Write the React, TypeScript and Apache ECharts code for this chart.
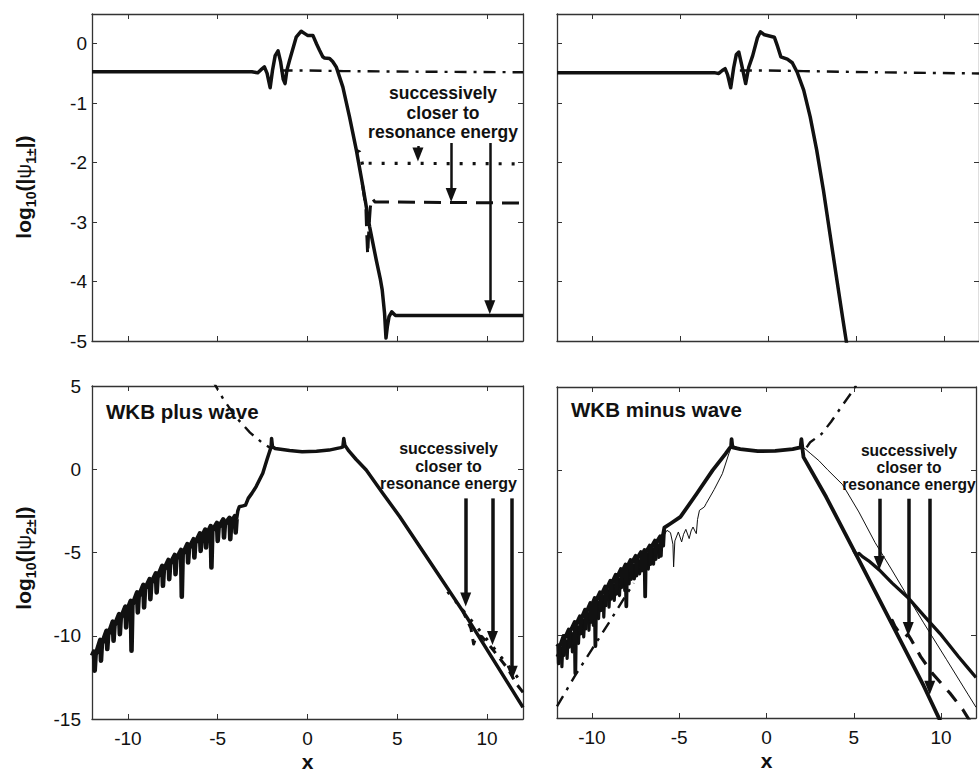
import React, { useEffect, useRef } from 'react';
import * as echarts from 'echarts';

type P = [number, number];

// ---------- tick labels ----------
const xTicks = [-10, -5, 0, 5, 10];
const yTicksTop = [-5, -4, -3, -2, -1, 0];
const yTicksBottom = [-15, -10, -5, 0, 5];

// ---------- top-left panel: log10(|psi1|) ----------
const tlSolid: P[] = [
  [-12, -0.47], [-3.1, -0.47], [-2.77, -0.49], [-2.6, -0.44], [-2.4, -0.39], [-2.25, -0.5], [-2.08, -0.74],
  [-1.95, -0.45], [-1.8, -0.2], [-1.64, -0.12], [-1.5, -0.3], [-1.35, -0.6], [-1.25, -0.67], [-1.15, -0.45],
  [-1.0, -0.28], [-0.63, 0.11], [-0.35, 0.21], [-0.15, 0.17], [0.0, 0.14], [0.3, 0.14], [0.5, 0.0],
  [0.67, -0.11], [0.85, -0.22], [0.95, -0.24], [1.23, -0.25], [1.4, -0.3], [1.6, -0.39], [1.97, -0.73],
  [2.34, -1.23], [2.72, -1.79], [3.09, -2.41], [3.46, -3.08], [3.83, -3.64], [4.05, -3.95], [4.16, -4.14],
  [4.29, -4.53], [4.37, -4.95], [4.45, -4.75], [4.54, -4.59], [4.69, -4.51], [4.9, -4.57], [12, -4.57],
];
const tlWkb: P[] = [[-1.5, -0.45], [0, -0.45], [2, -0.46], [6, -0.47], [12, -0.48]];
const tlDot: P[] = [[2.75, -1.8], [2.9, -1.82], [3.0, -1.95], [3.1, -2.08], [3.2, -2.04], [3.35, -2.01], [12, -2.02]];
const tlDash: P[] = [
  [3.05, -2.35], [3.25, -2.75], [3.3, -3.2], [3.35, -3.55], [3.42, -3.1], [3.5, -2.75], [3.6, -2.6],
  [3.75, -2.66], [12, -2.68],
];
const tlArrowX = [6.15, 8.0, 10.15];
const tlArrowFrom = [-1.72, -1.67, -1.67];
const tlArrowTip = [-1.98, -2.66, -4.55];

// ---------- top-right panel ----------
const trSolid: P[] = [
  [-12, -0.49], [-3.0, -0.49], [-2.8, -0.5], [-2.6, -0.45], [-2.44, -0.42], [-2.3, -0.52], [-2.12, -0.74],
  [-1.95, -0.4], [-1.8, -0.18], [-1.66, -0.14], [-1.5, -0.35], [-1.27, -0.67], [-1.1, -0.4], [-0.87, -0.2],
  [-0.6, 0.1], [-0.43, 0.2], [-0.2, 0.15], [0.08, 0.13], [0.36, 0.11], [0.55, -0.05], [0.73, -0.22],
  [1.1, -0.26], [1.38, -0.32], [1.66, -0.48], [2.03, -0.78], [2.4, -1.23], [2.77, -1.79], [3.15, -2.46],
  [3.52, -3.19], [3.89, -3.92], [4.26, -4.64], [4.45, -5.0], [4.7, -5.5],
];
const trWkb: P[] = [[-1.6, -0.45], [0, -0.45], [2, -0.46], [6, -0.48], [12, -0.5]];

// ---------- bottom-left panel: log10(|psi2|), WKB plus wave ----------
const blOsc: P[] = [
  [-12, -11.2],
  [-11.89, -10.95], [-11.85, -12.1], [-11.8, -11.15],
  [-11.54, -10.25], [-11.5, -11.5], [-11.45, -10.5],
  [-11.19, -9.7], [-11.15, -10.8], [-11.1, -9.95],
  [-10.84, -9.15], [-10.8, -10.3], [-10.75, -9.4],
  [-10.49, -8.7], [-10.45, -9.9], [-10.4, -8.95],
  [-10.14, -8.25], [-10.1, -9.5], [-10.05, -8.5],
  [-9.84, -7.9], [-9.8, -10.9], [-9.75, -8.15],
  [-9.49, -7.4], [-9.45, -8.6], [-9.4, -7.65],
  [-9.14, -6.95], [-9.1, -8.3], [-9.05, -7.2],
  [-8.79, -6.6], [-8.75, -7.8], [-8.7, -6.85],
  [-8.44, -6.25], [-8.4, -7.4], [-8.35, -6.5],
  [-8.09, -5.8], [-8.05, -7.0], [-8.0, -6.05],
  [-7.74, -5.45], [-7.7, -6.6], [-7.65, -5.7],
  [-7.39, -5.15], [-7.35, -6.3], [-7.3, -5.4],
  [-7.04, -4.85], [-7.0, -7.65], [-6.95, -5.1],
  [-6.69, -4.5], [-6.65, -5.6], [-6.6, -4.75],
  [-6.34, -4.2], [-6.3, -5.3], [-6.25, -4.45],
  [-5.99, -3.85], [-5.95, -4.9], [-5.9, -4.1],
  [-5.69, -3.62], [-5.65, -4.7], [-5.6, -3.9],
  [-5.39, -3.42], [-5.35, -5.9], [-5.3, -3.7],
  [-5.04, -3.22], [-5.0, -4.3], [-4.95, -3.5],
  [-4.69, -3.02], [-4.65, -4.1], [-4.6, -3.3],
  [-4.34, -2.92], [-4.3, -4.2], [-4.25, -3.2],
  [-4.04, -2.82], [-4.0, -3.8], [-3.95, -3.0],
];
const blSolid: P[] = [
  [-3.95, -3.0], [-3.88, -2.5], [-3.8, -2.25], [-3.6, -2.2], [-3.45, -2.15], [-3.3, -1.75], [-3.1, -1.45],
  [-2.86, -1.04], [-2.49, -0.24], [-2.25, 0.6], [-2.1, 1.1], [-2.03, 1.3], [-2.0, 1.85], [-1.95, 1.35],
  [-1.8, 1.25], [-1.0, 1.12], [-0.3, 1.05], [0.5, 1.08], [1.2, 1.15], [1.85, 1.3], [1.97, 1.35],
  [2.02, 1.85], [2.08, 1.45], [2.3, 1.1], [2.7, 0.6], [3.27, -0.04], [4.2, -1.45], [5.13, -2.84],
  [7.0, -5.85], [8.85, -8.85], [10.7, -12.05], [12, -14.3],
];
const blWkb: P[] = [[-5.3, 5.4], [-5.09, 4.96], [-4.68, 4.2], [-4.0, 3.15], [-3.2, 2.2], [-2.49, 1.56], [-2.1, 1.3]];
const blDot: P[] = [[7.8, -7.35], [8.3, -8.0], [9.1, -9.05], [9.6, -9.7], [10.2, -10.5], [10.8, -11.3], [11.4, -12.1], [12, -12.9]];
const blDash: P[] = [
  [8.6, -8.4], [9.1, -9.55], [9.25, -10.5], [9.4, -10.0], [9.7, -10.05], [10.15, -10.6], [11.17, -12.0],
  [11.64, -12.9], [12, -13.4],
];
const blArrowX = [8.81, 10.3, 11.4];
const blArrowFrom = [-1.75, -1.75, -1.75];
const blArrowTip = [-8.25, -10.55, -12.65];

// ---------- bottom-right panel: WKB minus wave ----------
const brSolid: P[] = [
  [-12, -10.7],
  [-11.93, -10.6], [-11.9, -11.7], [-11.86, -10.75],
  [-11.63, -10.05], [-11.6, -11.2], [-11.56, -10.2],
  [-11.33, -9.65], [-11.3, -10.7], [-11.26, -9.8],
  [-10.99, -9.2], [-10.95, -12.3], [-10.91, -9.35],
  [-10.69, -8.85], [-10.65, -9.9], [-10.61, -9.0],
  [-10.39, -8.45], [-10.35, -9.6], [-10.31, -8.6],
  [-10.09, -8.05], [-10.05, -9.2], [-10.01, -8.2],
  [-9.84, -7.75], [-9.8, -10.65], [-9.76, -7.9],
  [-9.54, -7.4], [-9.5, -8.5], [-9.46, -7.55],
  [-9.24, -7.05], [-9.2, -8.2], [-9.16, -7.2],
  [-8.94, -6.7], [-8.9, -7.8], [-8.86, -6.85],
  [-8.64, -6.35], [-8.6, -7.5], [-8.56, -6.5],
  [-8.34, -6.0], [-8.3, -7.1], [-8.26, -6.15],
  [-8.07, -5.72], [-8.03, -8.25], [-7.99, -5.9],
  [-7.79, -5.45], [-7.75, -6.6], [-7.71, -5.6],
  [-7.49, -5.2], [-7.45, -6.4], [-7.41, -5.35],
  [-7.19, -4.97], [-7.15, -6.1], [-7.11, -5.1],
  [-6.99, -4.85], [-6.95, -7.65], [-6.91, -5.0],
  [-6.69, -4.58], [-6.65, -5.7], [-6.61, -4.7],
  [-6.39, -4.28], [-6.35, -5.4], [-6.31, -4.4],
  [-6.09, -4.02], [-6.05, -5.2], [-6.01, -4.1],
  [-5.92, -3.9], [-5.85, -3.5], [-5.49, -3.25], [-4.93, -2.85], [-4.0, -1.45], [-3.09, -0.04],
  [-2.35, 0.96], [-2.12, 1.3], [-2.03, 1.4], [-2.0, 1.85], [-1.95, 1.35], [-1.5, 1.25], [-0.5, 1.12],
  [0.5, 1.14], [1.5, 1.25], [1.95, 1.35], [2.0, 1.85], [2.05, 1.35], [2.12, 0.76], [3.42, -1.65],
  [5.29, -5.45], [7.15, -9.25], [9.0, -13.05], [9.85, -14.95], [10.2, -15.7],
];
const brBand: P[] = [
  [-12, -11.3], [-11.75, -10.8], [-11.72, -11.9], [-11.68, -10.9], [-11.45, -10.35], [-11.42, -11.4],
  [-11.38, -10.5], [-11.15, -9.9], [-11.12, -11.0], [-11.08, -10.05], [-10.8, -9.5], [-10.77, -10.5],
  [-10.73, -9.65], [-10.5, -9.1], [-10.47, -10.1], [-10.43, -9.25], [-10.2, -8.7], [-10.17, -9.7],
  [-10.13, -8.85], [-9.95, -8.4], [-9.92, -9.4], [-9.88, -8.55], [-9.65, -8.0], [-9.62, -9.0],
  [-9.58, -8.15], [-9.35, -7.65], [-9.32, -8.9], [-9.28, -7.8], [-9.05, -7.3], [-9.02, -8.3],
  [-8.98, -7.45], [-8.75, -6.95], [-8.72, -7.9], [-8.68, -7.1], [-8.45, -6.6], [-8.42, -7.6],
  [-8.38, -6.75], [-8.15, -6.3], [-8.12, -7.3], [-8.08, -6.45], [-7.9, -6.0], [-7.87, -6.9],
  [-7.83, -6.1], [-7.6, -5.75], [-7.57, -6.6], [-7.53, -5.85], [-7.3, -5.5], [-7.27, -6.3],
  [-7.23, -5.6], [-6.8, -5.1], [-6.77, -6.0], [-6.73, -5.2], [-6.5, -4.8], [-6.47, -5.7],
  [-6.43, -4.9], [-6.2, -4.55], [-6.17, -5.3], [-6.13, -4.6], [-5.95, -4.3], [-5.9, -4.6], [-5.85, -3.6],
];
const brThin: P[] = [
  [-5.9, -4.0], [-5.7, -3.66], [-5.5, -3.8], [-5.36, -4.5], [-5.32, -5.87], [-5.25, -4.3], [-5.05, -3.76],
  [-4.86, -4.36], [-4.75, -3.9], [-4.62, -3.6], [-4.43, -4.16], [-4.32, -3.7], [-4.21, -3.46],
  [-4.1, -3.7], [-4.02, -3.86], [-3.95, -3.0], [-3.84, -2.45], [-3.56, -2.25], [-3.46, -2.05],
  [-3.0, -1.2], [-2.53, -0.24], [-2.16, 0.96], [-1.97, 1.5], [-1.5, 1.25], [0, 1.12], [1.5, 1.25],
  [2.0, 1.45], [2.5, 1.0], [3.0, 0.55], [3.5, 0.0], [4.36, -0.9], [5.29, -2.55], [6.22, -4.4],
  [7.15, -6.0], [8.08, -7.65], [9.0, -9.25], [10.3, -11.45], [11.56, -13.6], [12, -14.35],
];
const brSecond: P[] = [
  [5.0, -4.87], [5.15, -5.15], [5.3, -5.05], [5.5, -5.25], [5.85, -5.5], [6.46, -6.05], [7.2, -6.85],
  [8.08, -7.7], [9.0, -8.8], [9.94, -9.9], [11.0, -11.3], [11.56, -12.0], [12, -12.55],
];
const brDash: P[] = [
  [7.1, -9.15], [7.2, -9.1], [7.35, -9.45], [7.55, -9.75], [7.8, -10.0], [7.95, -10.1], [8.1, -9.95],
  [8.25, -10.2], [8.83, -11.29], [9.5, -12.3], [10.5, -13.49], [11.25, -14.5], [11.6, -15.1], [12, -15.8],
];
const brWkbLeft: P[] = [[-12, -14.3], [-11, -12.5], [-10, -10.85], [-9, -9.2], [-8, -7.5], [-7.6, -6.85]];
const brWkbRight: P[] = [[2.3, 1.35], [2.5, 1.66], [3.15, 2.16], [3.7, 2.9], [4.26, 3.76], [5.0, 4.86], [5.3, 5.4]];
const brArrowX = [6.46, 8.12, 9.35];
const brArrowFrom = [-1.75, -1.75, -1.75];
const brArrowTip = [-6.05, -10.05, -13.6];

// ---------- texts ----------
const annotationLines = ['successively', 'closer to', 'resonance energy'];
const plusTitle = 'WKB plus wave';
const minusTitle = 'WKB minus wave';
const yName1 = '{a|log}{s|10}{a|(|}{p|ψ}{s|1±}{a||)}';
const yName2 = '{a|log}{s|10}{a|(|}{p|ψ}{s|2±}{a||)}';
const xName = 'x';

const FONT = '"Liberation Sans", Arial, Helvetica, sans-serif';
const INK = '#111';
const FRAME = '#333';

const grids = [
  { left: 92, top: 14, width: 431, height: 327 },
  { left: 557, top: 14, width: 430, height: 327 },
  { left: 92, top: 386, width: 431, height: 333 },
  { left: 557, top: 387, width: 430, height: 331 },
];
const yRanges: [number, number][] = [[-5, 0.5], [-5, 0.5], [-15, 5], [-15, 5]];

function buildOption() {
  const xAxis: any[] = [];
  const yAxis: any[] = [];
  grids.forEach((_, g) => {
    const bottomPanel = g >= 2;
    const axisLine = { show: true, onZero: false, lineStyle: { color: FRAME, width: 1.3 } };
    const axisTick = { show: true, inside: true, length: 5, lineStyle: { color: FRAME, width: 1 } };
    xAxis.push({
      type: 'value', gridIndex: g, min: -12, max: 12, position: 'bottom',
      axisLine, axisTick, splitLine: { show: false },
      axisLabel: {
        show: bottomPanel, color: INK, fontSize: 19, fontFamily: FONT, margin: 10,
        formatter: (v: number) => (xTicks.includes(v) ? String(v) : ''),
      },
      name: bottomPanel ? xName : '', nameLocation: 'middle', nameGap: 32,
      nameTextStyle: { color: INK, fontSize: 21, fontWeight: 'bold', fontFamily: FONT },
    });
    xAxis.push({
      type: 'value', gridIndex: g, min: -12, max: 12, position: 'top',
      axisLine, axisTick, splitLine: { show: false }, axisLabel: { show: false },
    });
    const [ymin, ymax] = yRanges[g];
    const yt = bottomPanel ? yTicksBottom : yTicksTop;
    const leftPanel = g % 2 === 0;
    yAxis.push({
      type: 'value', gridIndex: g, min: ymin, max: ymax, interval: bottomPanel ? 5 : 1, position: 'left',
      axisLine, axisTick, splitLine: { show: false },
      axisLabel: {
        show: leftPanel, color: INK, fontSize: 19, fontFamily: FONT, margin: bottomPanel ? 11 : 5,
        formatter: (v: number) => (yt.includes(v) ? String(v) : ''),
      },
    });
    yAxis.push({
      type: 'value', gridIndex: g, min: ymin, max: ymax, interval: bottomPanel ? 5 : 1, position: 'right',
      axisLine, axisTick, splitLine: { show: false }, axisLabel: { show: false },
    });
  });

  const line = (data: P[], g: number, width: number, type: any = 'solid', z = 3) => ({
    type: 'line', data, xAxisIndex: 2 * g, yAxisIndex: 2 * g, showSymbol: false, symbol: 'none',
    silent: true, animation: false, z, clip: true,
    lineStyle: { color: INK, width, type, join: 'round', cap: 'butt' },
  });

  const arrows = (g: number, xs: number[], from: number[], tip: number[], width: number) => {
    const grid = grids[g];
    const [ymin, ymax] = yRanges[g];
    const half = 7 * (ymax - ymin) / grid.height; // half arrow-head length in data units
    return {
      type: 'line', data: [], xAxisIndex: 2 * g, yAxisIndex: 2 * g, silent: true, animation: false, z: 5,
      markLine: {
        silent: true, animation: false, symbol: ['none', 'triangle'], symbolSize: [11, 14],
        label: { show: false }, emphasis: { disabled: true },
        lineStyle: { color: INK, width, type: 'solid', opacity: 1 },
        data: xs.map((x, i) => [{ coord: [x, from[i]] }, { coord: [x, tip[i] + half] }]),
      },
    };
  };

  const dashDot = [12, 7, 3, 7];
  const series: any[] = [
    line(tlWkb, 0, 2.4, dashDot, 2),
    line(tlDot, 0, 3.2, [3, 10], 2),
    line(tlDash, 0, 3, [17, 9], 2),
    line(tlSolid, 0, 3.5),
    arrows(0, tlArrowX, tlArrowFrom, tlArrowTip, 2.5),

    line(trWkb, 1, 2.4, dashDot, 2),
    line(trSolid, 1, 3.5),

    line(blWkb, 2, 2.4, dashDot, 2),
    line(blDot, 2, 3, [3, 9], 2),
    line(blDash, 2, 3, [9, 7], 2),
    line(blOsc, 2, 4.6),
    line(blSolid, 2, 3.5),
    arrows(2, blArrowX, blArrowFrom, blArrowTip, 3.5),

    line(brWkbLeft, 3, 2.4, dashDot, 2),
    line(brWkbRight, 3, 2.4, dashDot, 2),
    line(brDash, 3, 3.2, [14, 10], 2),
    line(brBand, 3, 3.2, 'solid', 2),
    line(brThin, 3, 1, 'solid', 2),
    line(brSecond, 3, 3.3),
    line(brSolid, 3, 3.8),
    arrows(3, brArrowX, brArrowFrom, brArrowTip, 3.5),
  ];

  const rich = {
    a: { fontSize: 21, fontWeight: 'bold', fontFamily: FONT, lineHeight: 30, verticalAlign: 'middle', color: INK },
    p: { fontSize: 21, fontWeight: 'normal', fontFamily: FONT, lineHeight: 30, verticalAlign: 'middle', color: INK },
    s: { fontSize: 14, fontWeight: 'bold', fontFamily: FONT, lineHeight: 14, verticalAlign: 'bottom', color: INK },
  };

  const graphic: any[] = [
    { type: 'text', x: 23, y: 187, rotation: Math.PI / 2, z: 100, silent: true,
      style: { text: yName1, rich, align: 'center', verticalAlign: 'middle', fill: INK } },
    { type: 'text', x: 23, y: 558, rotation: Math.PI / 2, z: 100, silent: true,
      style: { text: yName2, rich, align: 'center', verticalAlign: 'middle', fill: INK } },
    { type: 'text', x: 443, y: 112.5, z: 100, silent: true,
      style: { text: annotationLines.join('\n'), fontSize: 17.5, fontWeight: 'bold', fontFamily: FONT,
        lineHeight: 19.5, align: 'center', verticalAlign: 'middle', fill: INK } },
    { type: 'text', x: 448.5, y: 466, z: 100, silent: true,
      style: { text: annotationLines.join('\n'), fontSize: 16, fontWeight: 'bold', fontFamily: FONT,
        lineHeight: 17.5, align: 'center', verticalAlign: 'middle', fill: INK } },
    { type: 'text', x: 909, y: 467, z: 100, silent: true,
      style: { text: annotationLines.join('\n'), fontSize: 15.6, fontWeight: 'bold', fontFamily: FONT,
        lineHeight: 17, align: 'center', verticalAlign: 'middle', fill: INK } },
    { type: 'text', x: 106, y: 411, z: 100, silent: true,
      style: { text: plusTitle, fontSize: 20.5, fontWeight: 'bold', fontFamily: FONT,
        align: 'left', verticalAlign: 'middle', fill: INK } },
    { type: 'text', x: 571, y: 409, z: 100, silent: true,
      style: { text: minusTitle, fontSize: 20.5, fontWeight: 'bold', fontFamily: FONT,
        align: 'left', verticalAlign: 'middle', fill: INK } },
  ];

  return {
    animation: false,
    backgroundColor: '#ffffff',
    grid: grids.map((g) => ({ ...g, containLabel: false })),
    xAxis,
    yAxis,
    series,
    graphic,
  };
}

export default function App() {
  const ref = useRef<HTMLDivElement>(null);
  useEffect(() => {
    if (!ref.current) return;
    const chart = echarts.init(ref.current, undefined, { renderer: 'svg' });
    chart.setOption(buildOption() as any);
    return () => chart.dispose();
  }, []);
  return (
    <div
      ref={ref}
      style={{ position: 'fixed', left: 0, top: 0, width: 979, height: 773, background: '#fff' }}
    />
  );
}
